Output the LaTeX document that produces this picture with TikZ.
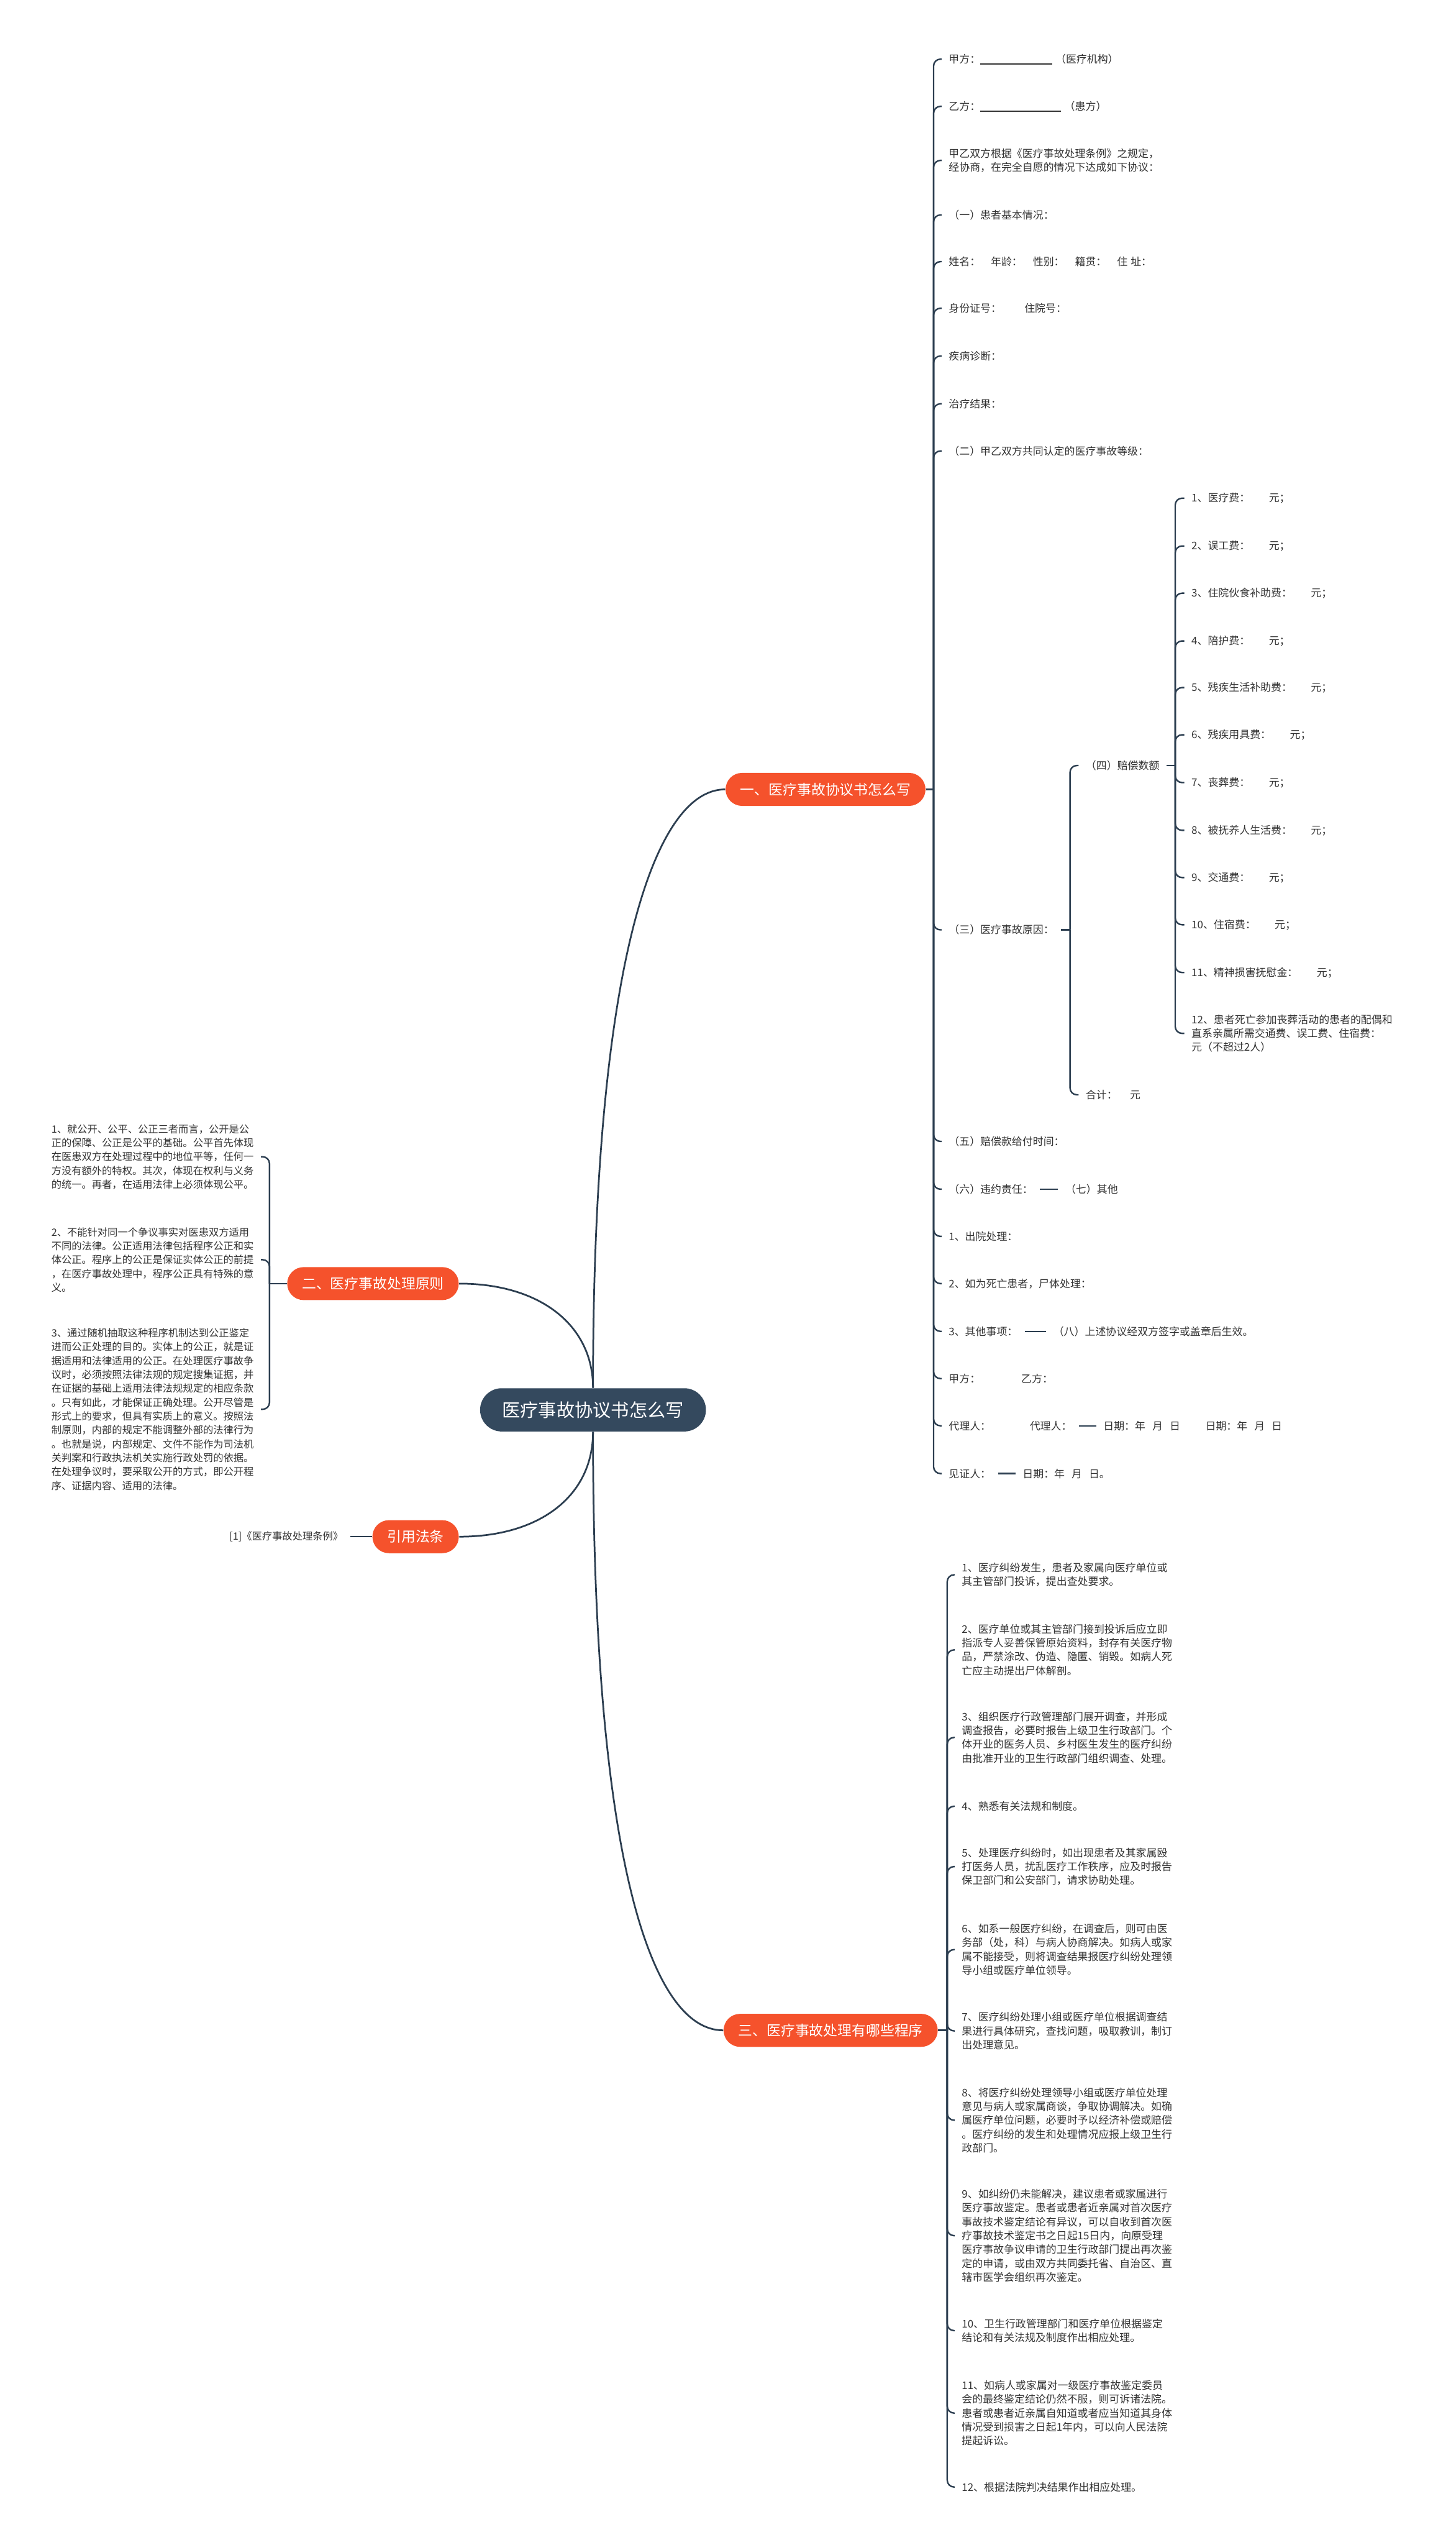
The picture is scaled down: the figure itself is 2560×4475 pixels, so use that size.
\documentclass[tikz,border=0pt]{standalone}
\usepackage{fontspec}
\usepackage{tikz}
\usepackage{xcolor}
\newfontfamily\cjk{Noto Sans CJK SC}
\definecolor{rootslate}{HTML}{34495E}
\definecolor{branchred}{HTML}{F5522C}
\definecolor{linkgray}{HTML}{2C3E50}
\definecolor{leafgray}{HTML}{333333}

\begin{document}
\begin{tikzpicture}[x=0.01cm, y=-0.01cm,
    root/.style={fill=rootslate, text=white, rounded corners=0.38cm, minimum height=0.76cm, minimum width=3.97cm, font=\cjk\fontsize{9.1}{11}\selectfont},
    branch/.style={fill=branchred, text=white, rounded corners=0.29cm, minimum height=0.58cm, inner xsep=0.26cm, font=\cjk\fontsize{7.1}{8.5}\selectfont},
    leaf/.style={anchor=west, align=left, inner xsep=0.12cm, inner ysep=0.03cm, text=leafgray, font=\cjk\fontsize{5.26}{6.94}\selectfont},
    leafl/.style={leaf, anchor=east, font=\cjk\fontsize{5.06}{6.94}\selectfont},
    link/.style={draw=linkgray, line width=0.03cm},
    hook/.style={draw=linkgray, line width=0.026cm, rounded corners=0.12cm}]
        \path[fill=white] (0,0) rectangle (2560,4475);
        \def\Ax{1656} \def\Sx{1897} \def\Fx{2083} \def\Tx{1679}

        % centre and main branches
        \node[root] (root) at (1043,2479) {医疗事故协议书怎么写};
        \node[branch] (b1) at (1452,1388) {一、医疗事故协议书怎么写};
        \node[branch] (b2) at (656,2257) {二、医疗事故处理原则};
        \node[branch] (bref) at (731,2702) {引用法条};
        \node[branch] (b3) at (1461,3570) {三、医疗事故处理有哪些程序};

        \draw[link] (root.north) .. controls (1043,1700) and (1150,1388) .. (b1.west);
        \draw[link] (root.south) .. controls (1043,3290) and (1150,3570) .. (b3.west);
        \draw[link] (b2.east) .. controls (950,2257) and (1043,2330) .. (root.north);
        \draw[link] (bref.east) .. controls (950,2702) and (1043,2630) .. (root.south);

        % branch one
        \node[leaf] (w1) at (\Ax,104) {甲方：\rule[-0.25ex]{1.26cm}{0.02cm}\hspace{0.06cm}（医疗机构）};
        \node[leaf] (w2) at (\Ax,187) {乙方：\rule[-0.25ex]{1.42cm}{0.02cm}\hspace{0.06cm}（患方）};
        \node[leaf] (w3) at (\Ax,282) {甲乙双方根据《医疗事故处理条例》之规定，\\经协商，在完全自愿的情况下达成如下协议：};
        \node[leaf] (w4) at (\Ax,378) {（一）患者基本情况：};
        \node[leaf] (w5) at (\Ax,460) {姓名：\quad 年龄：\quad 性别：\quad 籍贯：\quad 住\hspace{0.3em}址：};
        \node[leaf] (w6) at (\Ax,542) {身份证号：\hspace{2.2em}住院号：};
        \node[leaf] (w7) at (\Ax,626) {疾病诊断：};
        \node[leaf] (w8) at (\Ax,710) {治疗结果：};
        \node[leaf] (w9) at (\Ax,793) {（二）甲乙双方共同认定的医疗事故等级：};
        \node[leaf] (w10) at (\Ax,1635) {（三）医疗事故原因：};
        \node[leaf] (w11) at (\Ax,2007) {（五）赔偿款给付时间：};
        \node[leaf] (w12) at (\Ax,2091) {（六）违约责任：};
        \node[leaf] (w13) at (\Ax,2174) {1、出院处理：};
        \node[leaf] (w14) at (\Ax,2257) {2、如为死亡患者，尸体处理：};
        \node[leaf] (w15) at (\Ax,2341) {3、其他事项：};
        \node[leaf] (w16) at (\Ax,2424) {甲方：\hspace{3.9em}乙方：};
        \node[leaf] (w17) at (\Ax,2507) {代理人：\hspace{3.7em}代理人：};
        \node[leaf] (w18) at (\Ax,2591) {见证人：};

        \coordinate (j1) at (1642,1388);
        \draw[link] (b1.east) -- (j1);
        \foreach \n in {w1,w2,w3,w4,w5,w6,w7,w8,w9,w10,w11,w12,w13,w14,w15,w16,w17,w18}
            \draw[hook] (j1) |- (\n.west);

        \node[leaf] (q7) at (1861,2091) {（七）其他};
        \node[leaf] (q8) at (1840,2341) {（八）上述协议经双方签字或盖章后生效。};
        \node[leaf] (q17) at (1928,2507) {日期：年\hspace{0.65em}月\hspace{0.65em}日\hspace{2.4em}日期：年\hspace{0.65em}月\hspace{0.65em}日};
        \node[leaf] (q18) at (1786,2591) {日期：年\hspace{0.65em}月\hspace{0.65em}日。};
        \draw[hook] (w12.east) -- (q7.west);
        \draw[hook] (w15.east) -- (q8.west);
        \draw[hook] (w17.east) -- (q17.west);
        \draw[hook] (w18.east) -- (q18.west);

        % (三) and (四)
        \node[leaf] (s4) at (\Sx,1346) {（四）赔偿数额};
        \node[leaf] (s5) at (\Sx,1925) {合计：\hspace{1.2em}元};
        \coordinate (j3) at (1882,1635);
        \draw[hook] (w10.east) -- (j3);
        \draw[hook] (j3) |- (s4.west);
        \draw[hook] (j3) |- (s5.west);

        \node[leaf] (f1) at (\Fx,876) {1、医疗费：\hspace{1.8em}元；};
        \node[leaf] (f2) at (\Fx,960) {2、误工费：\hspace{1.8em}元；};
        \node[leaf] (f3) at (\Fx,1043) {3、住院伙食补助费：\hspace{1.8em}元；};
        \node[leaf] (f4) at (\Fx,1127) {4、陪护费：\hspace{1.8em}元；};
        \node[leaf] (f5) at (\Fx,1209) {5、残疾生活补助费：\hspace{1.8em}元；};
        \node[leaf] (f6) at (\Fx,1292) {6、残疾用具费：\hspace{1.8em}元；};
        \node[leaf] (f7) at (\Fx,1376) {7、丧葬费：\hspace{1.8em}元；};
        \node[leaf] (f8) at (\Fx,1460) {8、被抚养人生活费：\hspace{1.8em}元；};
        \node[leaf] (f9) at (\Fx,1543) {9、交通费：\hspace{1.8em}元；};
        \node[leaf] (f10) at (\Fx,1626) {10、住宿费：\hspace{1.8em}元；};
        \node[leaf] (f11) at (\Fx,1710) {11、精神损害抚慰金：\hspace{1.8em}元；};
        \node[leaf] (f12) at (\Fx,1817) {12、患者死亡参加丧葬活动的患者的配偶和\\直系亲属所需交通费、误工费、住宿费：\\元（不超过2人）};
        \coordinate (j4) at (2067,1346);
        \draw[hook] (s4.east) -- (j4);
        \foreach \n in {f1,f2,f3,f4,f5,f6,f7,f8,f9,f10,f11,f12}
            \draw[hook] (j4) |- (\n.west);

        % branch two
        \node[leafl] (p1) at (459,2034) {1、就公开、公平、公正三者而言，公开是公\\正的保障、公正是公平的基础。公平首先体现\\在医患双方在处理过程中的地位平等，任何一\\方没有额外的特权。其次，体现在权利与义务\\的统一。再者，在适用法律上必须体现公平。};
        \node[leafl] (p2) at (459,2215) {2、不能针对同一个争议事实对医患双方适用\\不同的法律。公正适用法律包括程序公正和实\\体公正。程序上的公正是保证实体公正的前提\\，在医疗事故处理中，程序公正具有特殊的意\\义。};
        \node[leafl] (p3) at (459,2478) {3、通过随机抽取这种程序机制达到公正鉴定\\进而公正处理的目的。实体上的公正，就是证\\据适用和法律适用的公正。在处理医疗事故争\\议时，必须按照法律法规的规定搜集证据，并\\在证据的基础上适用法律法规规定的相应条款\\。只有如此，才能保证正确处理。公开尽管是\\形式上的要求，但具有实质上的意义。按照法\\制原则，内部的规定不能调整外部的法律行为\\。也就是说，内部规定、文件不能作为司法机\\关判案和行政执法机关实施行政处罚的依据。\\在处理争议时，要采取公开的方式，即公开程\\序、证据内容、适用的法律。};
        \coordinate (j2) at (474,2257);
        \draw[link] (b2.west) -- (j2);
        \foreach \n in {p1,p2,p3}
            \draw[hook] (j2) |- (\n.east);

        % cited rule
        \node[leafl] (r1) at (616,2702) {[1]《医疗事故处理条例》};
        \draw[hook] (r1.east) -- (bref.west);

        % branch three
        \node[leaf] (t1) at (\Tx,2769) {1、医疗纠纷发生，患者及家属向医疗单位或\\其主管部门投诉，提出查处要求。};
        \node[leaf] (t2) at (\Tx,2901) {2、医疗单位或其主管部门接到投诉后应立即\\指派专人妥善保管原始资料，封存有关医疗物\\品，严禁涂改、伪造、隐匿、销毁。如病人死\\亡应主动提出尸体解剖。};
        \node[leaf] (t3) at (\Tx,3055) {3、组织医疗行政管理部门展开调查，并形成\\调查报告，必要时报告上级卫生行政部门。个\\体开业的医务人员、乡村医生发生的医疗纠纷\\由批准开业的卫生行政部门组织调查、处理。};
        \node[leaf] (t4) at (\Tx,3176) {4、熟悉有关法规和制度。};
        \node[leaf] (t5) at (\Tx,3282) {5、处理医疗纠纷时，如出现患者及其家属殴\\打医务人员，扰乱医疗工作秩序，应及时报告\\保卫部门和公安部门，请求协助处理。};
        \node[leaf] (t6) at (\Tx,3428) {6、如系一般医疗纠纷，在调查后，则可由医\\务部（处，科）与病人协商解决。如病人或家\\属不能接受，则将调查结果报医疗纠纷处理领\\导小组或医疗单位领导。};
        \node[leaf] (t7) at (\Tx,3571) {7、医疗纠纷处理小组或医疗单位根据调查结\\果进行具体研究，查找问题，吸取教训，制订\\出处理意见。};
        \node[leaf] (t8) at (\Tx,3728) {8、将医疗纠纷处理领导小组或医疗单位处理\\意见与病人或家属商谈，争取协调解决。如确\\属医疗单位问题，必要时予以经济补偿或赔偿\\。医疗纠纷的发生和处理情况应报上级卫生行\\政部门。};
        \node[leaf] (t9) at (\Tx,3931) {9、如纠纷仍未能解决，建议患者或家属进行\\医疗事故鉴定。患者或患者近亲属对首次医疗\\事故技术鉴定结论有异议，可以自收到首次医\\疗事故技术鉴定书之日起15日内，向原受理\\医疗事故争议申请的卫生行政部门提出再次鉴\\定的申请，或由双方共同委托省、自治区、直\\辖市医学会组织再次鉴定。};
        \node[leaf] (t10) at (\Tx,4098) {10、卫生行政管理部门和医疗单位根据鉴定\\结论和有关法规及制度作出相应处理。};
        \node[leaf] (t11) at (\Tx,4243) {11、如病人或家属对一级医疗事故鉴定委员\\会的最终鉴定结论仍然不服，则可诉诸法院。\\患者或患者近亲属自知道或者应当知道其身体\\情况受到损害之日起1年内，可以向人民法院\\提起诉讼。};
        \node[leaf] (t12) at (\Tx,4373) {12、根据法院判决结果作出相应处理。};
        \coordinate (j5) at (1666,3570);
        \draw[link] (b3.east) -- (j5);
        \foreach \n in {t1,t2,t3,t4,t5,t6,t7,t8,t9,t10,t11,t12}
            \draw[hook] (j5) |- (\n.west);
    \end{tikzpicture}
\end{document}
